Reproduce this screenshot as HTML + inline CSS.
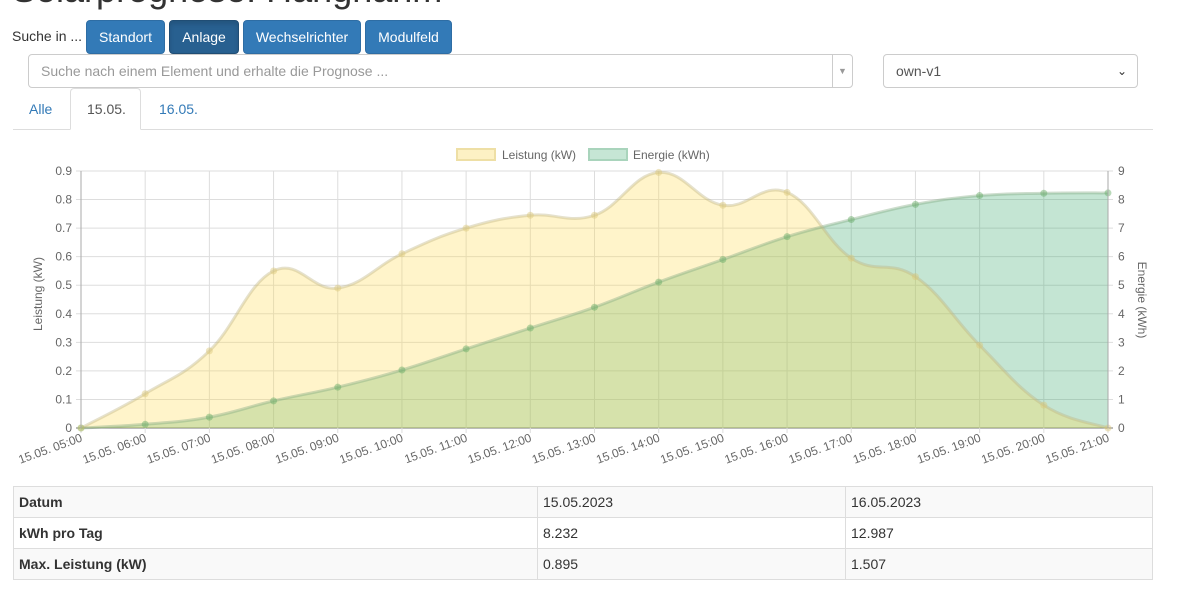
<!DOCTYPE html>
<html><head><meta charset="utf-8">
<style>
body{margin:0;width:1179px;height:601px;overflow:hidden;background:#fff;font-family:"Liberation Sans",Arial,sans-serif;color:#333;position:relative}
.abs{position:absolute}
.btn{position:absolute;top:20px;height:34px;background:#337ab7;border:1px solid #2e6da4;border-radius:4px;color:#fff;font-size:14px;line-height:33px;text-align:center;box-sizing:border-box}
.inp{position:absolute;top:54px;height:34px;border:1px solid #ccc;border-radius:4px;box-sizing:border-box;font-size:14px;line-height:32px}
table{position:absolute;left:13px;top:486px;width:1140px;border-collapse:collapse;font-size:14px}
td{border:1px solid #ddd;height:31px;padding:0 5px;box-sizing:border-box}
tr.s td{background:#f9f9f9}
td.b{font-weight:bold}
</style></head><body>
<div class="abs" style="left:12px;top:-31px;font-size:36px;color:#333;white-space:nowrap">Solarprognose: Hangnahm</div>
<div class="abs" style="left:12px;top:28px;font-size:14px">Suche in ...</div>
<div class="btn" style="left:86px;width:79px">Standort</div>
<div class="btn" style="left:169px;width:70px;background:#286090;border-color:#204d74;box-shadow:inset 0 3px 5px rgba(0,0,0,.125)">Anlage</div>
<div class="btn" style="left:243px;width:118px">Wechselrichter</div>
<div class="btn" style="left:365px;width:87px">Modulfeld</div>
<div class="inp" style="left:28px;width:825px;color:#999;padding-left:12px">Suche nach einem Element und erhalte die Prognose ...
<div class="abs" style="left:803px;top:0;width:1px;height:32px;background:#ccc"></div>
<div class="abs" style="left:809px;top:0;font-size:9px;color:#999">▼</div></div>
<div class="inp" style="left:883px;width:255px;padding-left:12px;color:#555">own-v1<div class="abs" style="right:10px;top:0;font-size:12px;color:#333">⌄</div></div>
<div class="abs" style="left:13px;top:129px;width:1140px;height:1px;background:#ddd"></div>
<div class="abs" style="left:70px;top:88px;width:71px;height:42px;border:1px solid #ddd;border-bottom:1px solid #fff;border-radius:4px 4px 0 0;background:#fff;box-sizing:border-box"></div>
<div class="abs" style="left:29px;top:101px;font-size:14px;color:#337ab7">Alle</div>
<div class="abs" style="left:87px;top:101px;font-size:14px;color:#555">15.05.</div>
<div class="abs" style="left:159px;top:101px;font-size:14px;color:#337ab7">16.05.</div>
<svg id="c" class="abs" style="left:0;top:0" width="1179" height="480"></svg>
<table>
<tr class="s"><td class="b" style="width:524px">Datum</td><td style="width:308px">15.05.2023</td><td>16.05.2023</td></tr>
<tr><td class="b">kWh pro Tag</td><td>8.232</td><td>12.987</td></tr>
<tr class="s"><td class="b">Max. Leistung (kW)</td><td>0.895</td><td>1.507</td></tr>
</table>
<script>
var x0=81,x1=1108,y0=428,yt=171,n=16,dx=(x1-x0)/n;
var L=[0,.12,.27,.55,.49,.61,.70,.745,.745,.895,.78,.825,.595,.53,.29,.08,0];
var E=[0,.13,.38,.95,1.43,2.03,2.77,3.5,4.23,5.11,5.9,6.7,7.3,7.83,8.14,8.22,8.232];
var h=y0-yt,s='';
function P(a,m){return a.map(function(v,i){return [x0+i*dx,y0-v/m*h]})}
function path(p){var d='M'+p[0][0]+','+p[0][1];for(var i=0;i<p.length-1;i++){var a=p[Math.max(i-1,0)],b=p[i],c=p[i+1],e=p[Math.min(i+2,p.length-1)];var k=0.2;d+=' C'+(b[0]+(c[0]-a[0])*k)+','+(b[1]+(c[1]-a[1])*k)+' '+(c[0]-(e[0]-b[0])*k)+','+(c[1]-(e[1]-b[1])*k)+' '+c[0]+','+c[1];}return d}
for(var i=0;i<=9;i++){var y=y0-i*h/9;s+='<line x1="76" x2="1113" y1="'+y+'" y2="'+y+'" stroke="'+(i==0?'#777':'#ddd')+'"/>';
s+='<text x="72" y="'+(y+4)+'" font-size="12" text-anchor="end" fill="#666">'+(i==0?'0':'0.'+i)+'</text>';
s+='<text x="1118" y="'+(y+4)+'" font-size="12" fill="#666">'+i+'</text>';}
for(var i=0;i<=n;i++){var x=x0+i*dx;s+='<line x1="'+x+'" x2="'+x+'" y1="'+yt+'" y2="433" stroke="#ddd"/>';
var hh=5+i;s+='<text transform="translate('+(x+2)+',441) rotate(-20)" font-size="12" text-anchor="end" fill="#666">15.05. '+(hh<10?'0':'')+hh+':00</text>';}
var pe=P(E,9),pl=P(L,.9);
var de=path(pe),dl=path(pl);
s+='<path d="'+de+' L'+x1+','+y0+' L'+x0+','+y0+'Z" fill="rgba(60,170,110,0.3)"/>';
s+='<path d="'+dl+' L'+x1+','+y0+' L'+x0+','+y0+'Z" fill="rgba(255,220,80,0.3)"/>';
s+='<path d="'+de+'" fill="none" stroke="rgba(130,170,130,0.4)" stroke-width="3"/>';
s+='<path d="'+dl+'" fill="none" stroke="rgba(190,180,130,0.4)" stroke-width="3"/>';
pe.forEach(function(p){s+='<circle cx="'+p[0]+'" cy="'+p[1]+'" r="3.5" fill="rgba(100,170,100,0.45)"/>'});
pl.forEach(function(p){s+='<circle cx="'+p[0]+'" cy="'+p[1]+'" r="3.5" fill="rgba(220,200,120,0.45)"/>'});
s+='<line x1="81" x2="81" y1="171" y2="428" stroke="#aaa"/><line x1="1108" x2="1108" y1="171" y2="428" stroke="#aaa"/>';
s+='<text transform="translate(42,294) rotate(-90)" font-size="12" text-anchor="middle" fill="#666">Leistung (kW)</text>';
s+='<text transform="translate(1138,300) rotate(90)" font-size="12" text-anchor="middle" fill="#666">Energie (kWh)</text>';
s+='<rect x="457" y="149" width="38" height="11" fill="#fdf1c4" stroke="#eedfa5" stroke-width="2"/><text x="502" y="159" font-size="12" fill="#666">Leistung (kW)</text>';
s+='<rect x="589" y="149" width="38" height="11" fill="#c6e6d5" stroke="#a9d4bc" stroke-width="2"/><text x="633" y="159" font-size="12" fill="#666">Energie (kWh)</text>';
document.getElementById('c').innerHTML=s;
</script>
</body></html>
